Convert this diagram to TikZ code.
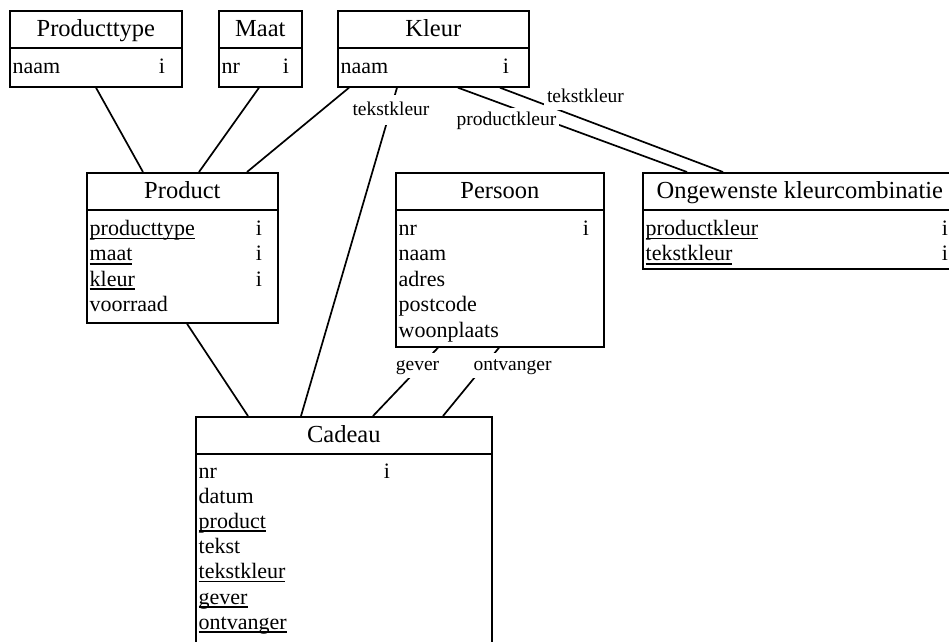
\documentclass[tikz,border=0pt]{standalone}
\usepackage{fontspec}
\setmainfont{Liberation Serif}
\usetikzlibrary{calc}

% underlined (foreign key) attribute, rule sits just under the baseline
\newcommand\fk[1]{\setbox0\hbox{#1}\rlap{\vrule width\wd0 height -2pt depth 3.6pt}#1}

\tikzset{
  entity/.style={draw, line width=1.7pt, rectangle, inner sep=0pt, anchor=north west},
  headline/.style={line width=1.7pt},
  etitle/.style={anchor=base, inner sep=0pt, font=\fontsize{24.5}{29}\selectfont},
  attr/.style={anchor=base west, inner sep=0pt, font=\fontsize{22}{26}\selectfont},
  idx/.style={anchor=base, inner sep=0pt, font=\fontsize{22}{26}\selectfont},
  rel/.style={line width=1.7pt},
  rlabel/.style={fill=white, anchor=base, inner xsep=3pt, inner ysep=3.5pt,
    text height=14pt, text depth=4pt, font=\fontsize{19.5}{23}\selectfont},
}

% entity box: name, left, top, width, height, title
\newcommand\entitybox[6]{%
  \node[entity, minimum width=#4, minimum height=#5] (#1) at (#2,#3) {};
  \draw[headline] ([yshift=-38pt]#1.north west) -- ([yshift=-38pt]#1.north east);
  \node[etitle] (#1-title) at ([yshift=-26pt]#1.north) {#6};
}

\begin{document}
\begin{tikzpicture}[x=1pt, y=-1pt]
\useasboundingbox (0,0) rectangle (949,641);
\clip (0,0) rectangle (949,641);
\fill[white] (0,0) rectangle (949,641);

% ---------- entities ----------
\entitybox{producttype}{9}{10}{172}{76}{Producttype}
\node[attr] (producttype-a1) at (12.5,73) {naam};
\node[idx]  (producttype-i1) at (162,73) {i};

\entitybox{maat}{218}{10}{83}{76}{Maat}
\node[attr] (maat-a1) at (221.5,73) {nr};
\node[idx]  (maat-i1) at (286,73) {i};

\entitybox{kleur}{337}{10}{191}{76}{Kleur}
\node[attr] (kleur-a1) at (340.5,73) {naam};
\node[idx]  (kleur-i1) at (506,73) {i};

\entitybox{product}{86}{172}{191}{150}{Product}
\node[attr] (product-a1) at (89.5,235.5) {\fk{producttype}};
\node[attr] (product-a2) at (89.5,260.9) {\fk{maat}};
\node[attr] (product-a3) at (89.5,286.3) {\fk{kleur}};
\node[attr] (product-a4) at (89.5,311.7) {voorraad};
\node[idx]  (product-i1) at (259,235.5) {i};
\node[idx]  (product-i2) at (259,260.9) {i};
\node[idx]  (product-i3) at (259,286.3) {i};

\entitybox{persoon}{395}{172}{208}{174}{Persoon}
\node[attr] (persoon-a1) at (398.5,235.5) {nr};
\node[attr] (persoon-a2) at (398.5,260.9) {naam};
\node[attr] (persoon-a3) at (398.5,286.3) {adres};
\node[attr] (persoon-a4) at (398.5,311.7) {postcode};
\node[attr] (persoon-a5) at (398.5,337.1) {woonplaats};
\node[idx]  (persoon-i1) at (586,235.5) {i};

\entitybox{ongewenst}{642}{172}{314}{96}{Ongewenste kleurcombinatie}
\node[attr] (ongewenst-a1) at (645.5,235.5) {\fk{productkleur}};
\node[attr] (ongewenst-a2) at (645.5,260.9) {\fk{tekstkleur}};
\node[idx]  (ongewenst-i1) at (945,235.5) {i};
\node[idx]  (ongewenst-i2) at (945,260.9) {i};

\entitybox{cadeau}{195}{416}{296}{234}{Cadeau}
\node[attr] (cadeau-a1) at (198.5,478) {nr};
\node[attr] (cadeau-a2) at (198.5,503.2) {datum};
\node[attr] (cadeau-a3) at (198.5,528.4) {\fk{product}};
\node[attr] (cadeau-a4) at (198.5,553.6) {tekst};
\node[attr] (cadeau-a5) at (198.5,578.8) {\fk{tekstkleur}};
\node[attr] (cadeau-a6) at (198.5,604) {\fk{gever}};
\node[attr] (cadeau-a7) at (198.5,629.2) {\fk{ontvanger}};
\node[idx]  (cadeau-i1) at (387,478) {i};

% ---------- relationships ----------
\draw[rel] ($(producttype.south west)+(87,0)$) -- ($(product.north west)+(57,0)$);
\draw[rel] ($(maat.south west)+(41,0)$) -- ($(product.north west)+(113,0)$);
\draw[rel] ($(kleur.south west)+(12,0)$) -- ($(product.north west)+(161,0)$);
\draw[rel] ($(product.south west)+(101,0)$) -- ($(cadeau.north west)+(53,0)$);

\draw[rel] ($(kleur.south west)+(60,0)$) -- ($(cadeau.north west)+(106,0)$)
  node[rlabel, inner ysep=6pt] (lbl-cadeau-tk) at (391,115) {tekstkleur};
\draw[rel] ($(kleur.south west)+(121,0)$) -- ($(ongewenst.north west)+(45,0)$)
  node[rlabel] (lbl-ongewenst-pk) at (506.5,125) {productkleur};
\draw[rel] ($(kleur.south west)+(163,0)$) -- ($(ongewenst.north west)+(81,0)$)
  node[rlabel] (lbl-ongewenst-tk) at (585.5,102) {tekstkleur};

\draw[rel] ($(persoon.south west)+(43,0)$) -- ($(cadeau.north west)+(178,0)$)
  node[rlabel] (lbl-gever) at (417.5,370) {gever};
\draw[rel] ($(persoon.south west)+(104,0)$) -- ($(cadeau.north west)+(248,0)$)
  node[rlabel] (lbl-ontvanger) at (512.5,370) {ontvanger};
\end{tikzpicture}
\end{document}
